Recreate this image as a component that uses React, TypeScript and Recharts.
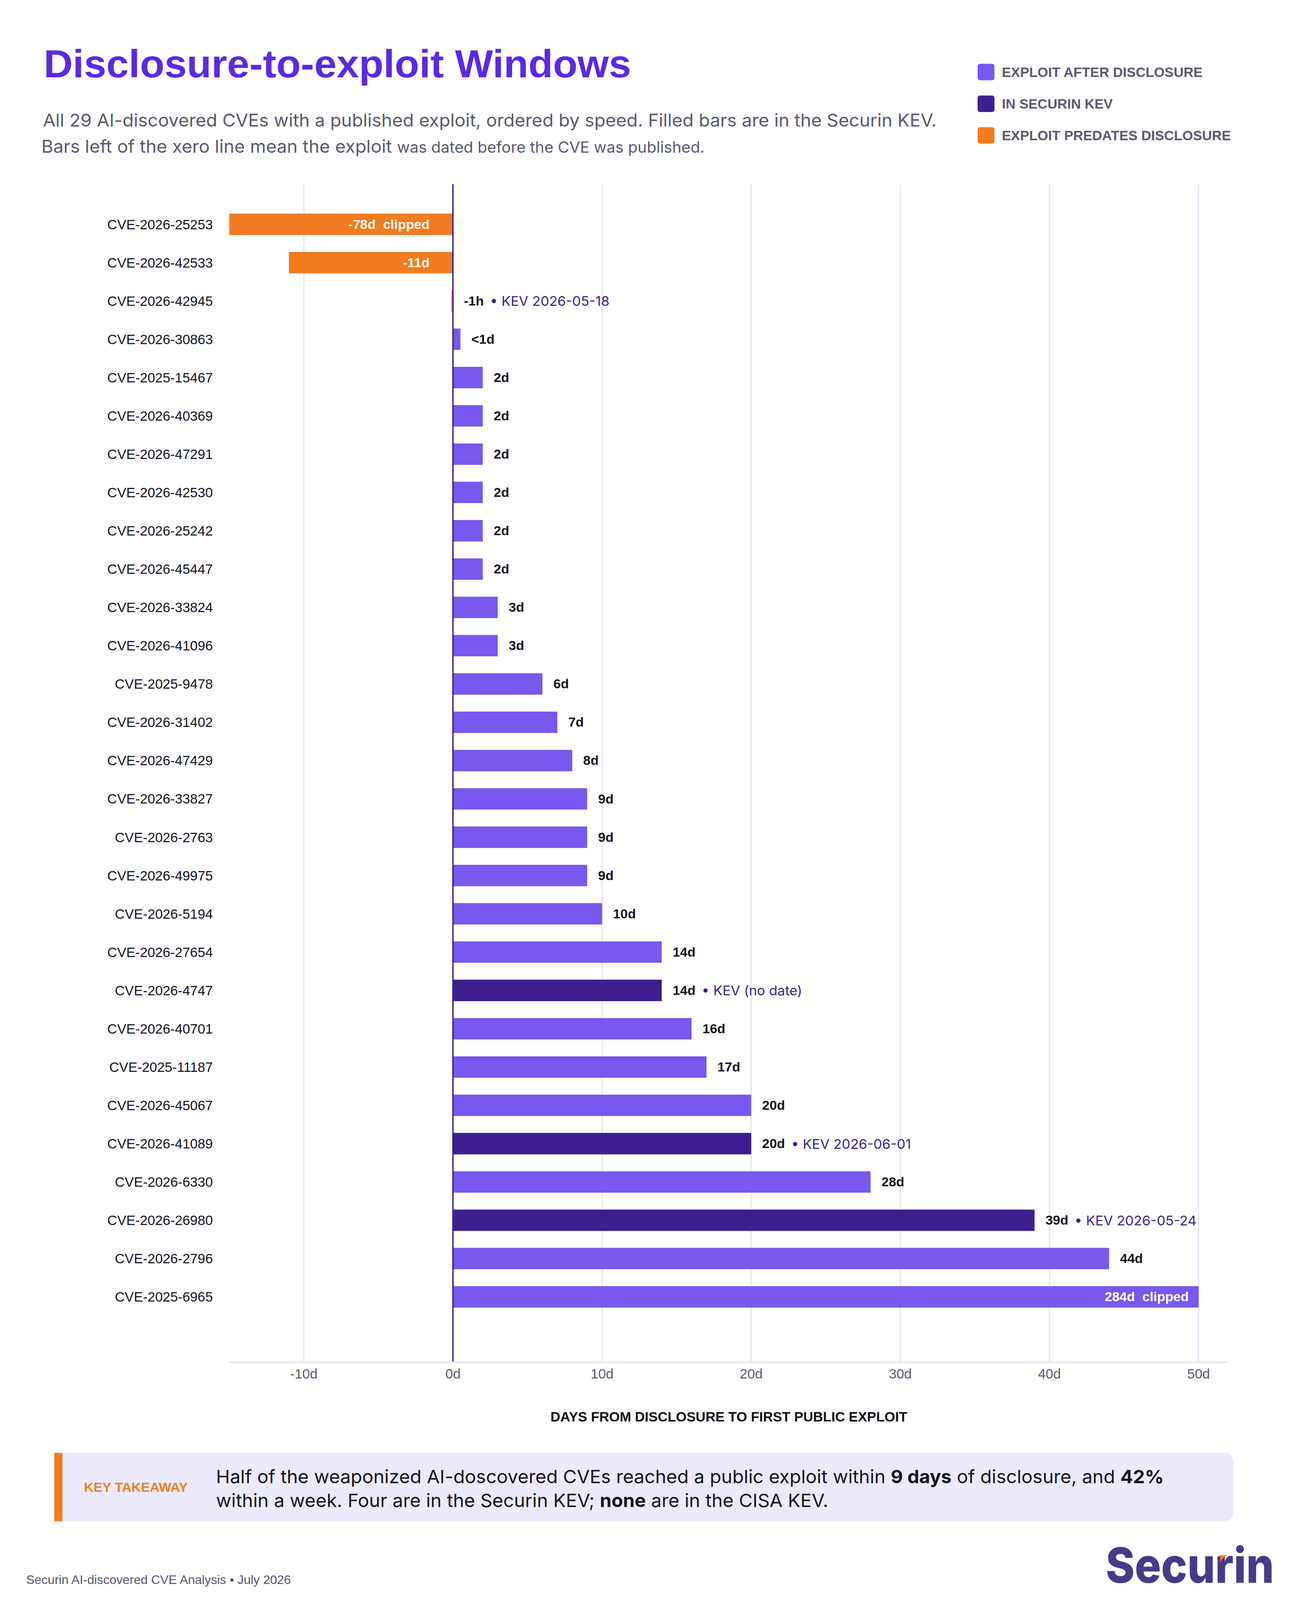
import React from "react";
import { Bar, BarChart, CartesianGrid, Cell, LabelList, ReferenceLine, XAxis, YAxis } from "recharts";

// one row per CVE, ordered by speed (fastest first)
const cves = [
  "CVE-2026-25253", "CVE-2026-42533", "CVE-2026-42945", "CVE-2026-30863", "CVE-2025-15467",
  "CVE-2026-40369", "CVE-2026-47291", "CVE-2026-42530", "CVE-2026-25242", "CVE-2026-45447",
  "CVE-2026-33824", "CVE-2026-41096", "CVE-2025-9478", "CVE-2026-31402", "CVE-2026-47429",
  "CVE-2026-33827", "CVE-2026-2763", "CVE-2026-49975", "CVE-2026-5194", "CVE-2026-27654",
  "CVE-2026-4747", "CVE-2026-40701", "CVE-2025-11187", "CVE-2026-45067", "CVE-2026-41089",
  "CVE-2026-6330", "CVE-2026-26980", "CVE-2026-2796", "CVE-2025-6965",
];

// days from disclosure to first public exploit
const days = [-78, -11, -0.04, 0.5, 2, 2, 2, 2, 2, 2, 3, 3, 6, 7, 8, 9, 9, 9, 10, 14, 14, 16, 17, 20, 20, 28, 39, 44, 284];

const dayLabels = [
  "-78d", "-11d", "-1h", "<1d", "2d", "2d", "2d", "2d", "2d", "2d", "3d", "3d", "6d", "7d", "8d",
  "9d", "9d", "9d", "10d", "14d", "14d", "16d", "17d", "20d", "20d", "28d", "39d", "44d", "284d",
];

// pre = exploit predates disclosure, after = exploit after disclosure, kev = in Securin KEV
const status = [
  "pre", "pre", "pre", "after", "after", "after", "after", "after", "after", "after",
  "after", "after", "after", "after", "after", "after", "after", "after", "after", "after",
  "kev", "after", "after", "after", "kev", "after", "kev", "after", "after",
];

const kevNotes = [
  "", "", "KEV 2026-05-18", "", "", "", "", "", "", "", "", "", "", "", "",
  "", "", "", "", "", "KEV (no date)", "", "", "", "KEV 2026-06-01", "", "KEV 2026-05-24", "", "",
];

const xTicks = [-10, 0, 10, 20, 30, 40, 50];
const CLIP_MIN = -15;
const CLIP_MAX = 50;

const COLORS: Record<string, string> = {
  after: "#7858ee",
  kev: "#3d1f8f",
  pre: "#f27b21",
};

const legendItems = [
  { key: "after", label: "EXPLOIT AFTER DISCLOSURE" },
  { key: "kev", label: "IN SECURIN KEV" },
  { key: "pre", label: "EXPLOIT PREDATES DISCLOSURE" },
];

const rows = cves.map((cve, i) => ({
  cve,
  idx: i,
  shown: Math.max(CLIP_MIN, Math.min(CLIP_MAX, days[i])),
}));

const PAGE_W = 3336;
const PAGE_H = 4187;
const SANS = "'Liberation Sans', Arial, sans-serif";
const GEO = "Inter, 'Noto Sans', sans-serif";

function BarLabel(props: any) {
  const { x, y, width, height, value } = props;
  const i = Number(value);
  const right = Math.max(x, x + width);
  const cy = y + height / 2;
  const clipped = days[i] < CLIP_MIN || days[i] > CLIP_MAX;
  const text = clipped ? `${dayLabels[i]}  clipped` : dayLabels[i];

  if (clipped || days[i] <= -1) {
    const endX = days[i] < 0 ? right - 60 : right - 25;
    return (
      <text x={endX} y={cy} textAnchor="end" dominantBaseline="central" fill="#ffffff"
        fontSize={34} fontWeight={700} style={{ whiteSpace: "pre" }}>
        {text}
      </text>
    );
  }
  return (
    <text x={right + 28} y={cy} textAnchor="start" dominantBaseline="central" fill="#15151f"
      fontSize={34} fontWeight={700} style={{ whiteSpace: "pre" }}>
      {text}
      {kevNotes[i] ? (
        <tspan fill="#3d1f8f" fontWeight={400} fontFamily={GEO} fontSize={35} dx={6}>{` • ${kevNotes[i]}`}</tspan>
      ) : null}
    </text>
  );
}

function Header() {
  return (
    <svg width={PAGE_W} height={PAGE_H} style={{ position: "absolute", left: 0, top: 0 }}>
      <text x={112} y={202} fontFamily={SANS} fontSize={103} fontWeight={700} fill="#5b29e4">
        Disclosure-to-exploit Windows
      </text>
      <text x={110} y={331} fontFamily={GEO} fontSize={46.5} fill="#5b5a6b">
        All 29 AI-discovered CVEs with a published exploit, ordered by speed. Filled bars are in the Securin KEV.
      </text>
      <text x={106} y={400} fontFamily={GEO} fontSize={46.5} fill="#5b5a6b" style={{ whiteSpace: "pre" }}>
        {"Bars left of the xero line mean the exploit "}
        <tspan fontSize={40}>was dated before the CVE was published.</tspan>
      </text>

      {legendItems.map((item, k) => (
        <g key={item.key}>
          <rect x={2503} y={167 + k * 83} width={43} height={43} rx={6} fill={COLORS[item.key]} />
          <text x={2565} y={201 + k * 83} fontFamily={SANS} fontSize={35} fontWeight={700} fill="#5b5a6b">
            {item.label}
          </text>
        </g>
      ))}

      <text x={1866} y={3720} textAnchor="middle" fontFamily={SANS} fontSize={35} fontWeight={700} fill="#111118">
        DAYS FROM DISCLOSURE TO FIRST PUBLIC EXPLOIT
      </text>

      <rect x={139} y={3802} width={3019} height={179} rx={22} fill="#ece9fb" />
      <rect x={139} y={3802} width={60} height={179} fill="#ece9fb" />
      <rect x={139} y={3802} width={21} height={179} fill="#f27b21" />
      <text x={215} y={3904} fontFamily={SANS} fontSize={34} fontWeight={700} fill="#f27b21">
        KEY TAKEAWAY
      </text>
      <text x={553} y={3881} fontFamily={GEO} fontSize={48} fill="#15151f">
        Half of the weaponized AI-doscovered CVEs reached a public exploit within{" "}
        <tspan fontWeight={700}>9 days</tspan> of disclosure, and <tspan fontWeight={700}>42%</tspan>
      </text>
      <text x={553} y={3944} fontFamily={GEO} fontSize={48} fill="#15151f">
        within a week. Four are in the Securin KEV; <tspan fontWeight={700}>none</tspan> are in the CISA KEV.
      </text>

      <text x={67} y={4145} fontFamily={SANS} fontSize={32} fill="#55556a">
        Securin AI-discovered CVE Analysis • July 2026
      </text>
      <text x={2831} y={4142} fontFamily={GEO} fontSize={128} fontWeight={800} fill="#483a88"
        textLength={431} lengthAdjust="spacingAndGlyphs">
        Securin
      </text>
      <path d="M3124 4070 L3145 4070 Q3128 4076 3124 4090 Z" fill="#f27b21" />
    </svg>
  );
}

export default function App() {
  // the visible viewport can be a little shorter than the page size we were asked for
  const viewH = typeof window !== "undefined" && window.innerHeight > 0 ? window.innerHeight : PAGE_H;
  const fit = Math.min(1, viewH / PAGE_H);

  return (
    <div style={{ position: "fixed", left: 0, top: 0, width: PAGE_W, height: PAGE_H, background: "#ffffff", fontFamily: SANS, overflow: "hidden", transform: `scaleY(${fit})`, transformOrigin: "0 0" }}>
      <Header />
      <div style={{ position: "absolute", left: 8, top: 408 }}>
        <BarChart
          width={3177}
          height={3227}
          data={rows}
          layout="vertical"
          margin={{ top: 74, right: 40, bottom: 10, left: 0 }}
          barSize={56}
        >
          <CartesianGrid horizontal={false} syncWithTicks stroke="#e5e3f6" strokeWidth={3} />
          <XAxis
            type="number"
            domain={[-15, 52]}
            ticks={xTicks}
            allowDataOverflow
            tickFormatter={(v) => `${v}d`}
            tick={{ fill: "#5b5a6b", fontSize: 35 }}
            tickLine={false}
            tickSize={0}
            tickMargin={18}
            height={60}
            axisLine={{ stroke: "#e5e3f6", strokeWidth: 4 }}
          />
          <YAxis
            type="category"
            dataKey="cve"
            width={579}
            tick={{ fill: "#15151f", fontSize: 35 }}
            tickLine={false}
            tickSize={0}
            tickMargin={42}
            axisLine={false}
            interval={0}
            padding={{ top: 55, bottom: 121 }}
          />
          <Bar dataKey="shown" isAnimationActive={false} minPointSize={4}>
            {rows.map((r) => (
              <Cell key={r.cve} fill={COLORS[status[r.idx]]} />
            ))}
            <LabelList dataKey="idx" content={BarLabel} />
          </Bar>
          <ReferenceLine x={0} stroke="#3d1f8f" strokeWidth={3.5} />
        </BarChart>
      </div>
    </div>
  );
}
